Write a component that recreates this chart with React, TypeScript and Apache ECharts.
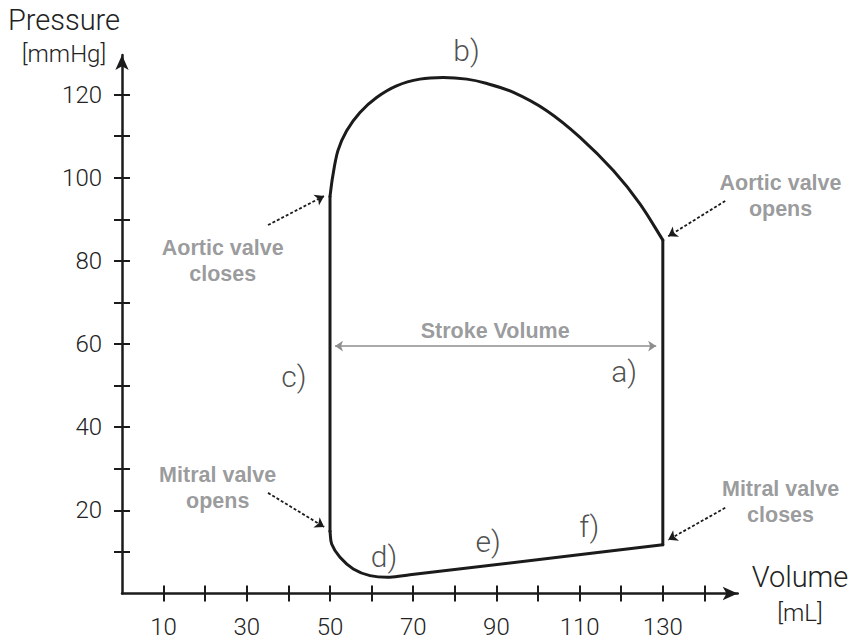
import React, { useEffect, useRef } from "react";
import * as echarts from "echarts";

// Volume (mL) / pressure (mmHg) pairs for each phase of the cardiac cycle
const contractionVolume = [130, 130];
const contractionPressure = [11.7, 85];

const ejectionVolume = [130, 124.5, 118.1, 110.1, 102.1, 94.1, 87.5, 82.9, 77.2, 71.6, 66.0, 61.2, 57.2, 54.0, 51.9, 50.6, 50.0];
const ejectionPressure = [85, 93.7, 101.7, 109.7, 116.1, 120.5, 122.7, 123.7, 124.1, 123.7, 122.1, 119.3, 115.7, 111.3, 106.5, 100, 95.5];

const relaxationVolume = [50, 50];
const relaxationPressure = [95.5, 15];

const fillingVolume = [50, 50.4, 52.4, 55.6, 59.6, 64.4, 69.2, 130];
const fillingPressure = [15, 11.9, 8.7, 5.9, 4.3, 3.9, 4.5, 11.7];

// Axis ticks and labels
const xTickValues = [10, 20, 30, 40, 50, 60, 70, 80, 90, 100, 110, 120, 130, 140];
const xLabelValues = [10, 30, 50, 70, 90, 110, 130];
const yTickValues = [10, 20, 30, 40, 50, 60, 70, 80, 90, 100, 110, 120];
const yLabelValues = [20, 40, 60, 80, 100, 120];

// Phase letters
const phaseNames = ["a)", "b)", "c)", "d)", "e)", "f)"];
const phaseVolume = [120.7, 82.8, 41.3, 63.0, 88.0, 112.3];
const phasePressure = [53.5, 130.5, 52.3, 9.0, 12.4, 16.2];

// Valve events: text, text anchor, arrow start and arrow end
const valveNames = ["Aortic valve\ncloses", "Aortic valve\nopens", "Mitral valve\nopens", "Mitral valve\ncloses"];
const valveTextVolume = [24.2, 158.3, 23.0, 158.3];
const valveTextPressure = [80.0, 95.7, 25.4, 22.1];
const valveArrowFrom = [[35.1, 88.6], [145.0, 94.4], [35.1, 24.2], [145.0, 20.6]];
const valveArrowTo = [[48.6, 95.6], [131.3, 85.9], [48.6, 16.0], [131.3, 12.9]];

// Stroke volume span
const strokeFrom = [51.2, 59.5];
const strokeTo = [128.4, 59.5];
const strokeLabel = { name: "Stroke Volume", volume: 89.7, pressure: 63.1 };

const LINE = "#1b1b1b";
const GREY = "#7f8184";
const THIN_FONT = "Roboto, 'Liberation Sans', sans-serif";
const BOLD_FONT = "'Liberation Sans', Arial, sans-serif";

const zip = (xs: number[], ys: number[]) => xs.map((x, i) => [x, ys[i]]);
const dist = (a: number[], b: number[]) => Math.hypot(b[0] - a[0], b[1] - a[1]);

// One phase of the loop, drawn as a single path through its points.
// Curved phases use length-weighted cardinal tangents as cubic Béziers.
const loopSeries = (name: string, xs: number[], ys: number[], curved: boolean) => {
  const data = zip(xs, ys);
  return {
    name,
    type: "custom",
    silent: true,
    clip: false,
    z: 5,
    data,
    renderItem: (params: any, api: any) => {
      if (params.dataIndex !== 0) return null;
      const p = data.map((d) => api.coord(d));
      const s = 1 / 3;
      let d = `M${p[0][0]},${p[0][1]}`;
      for (let i = 0; i < p.length - 1; i++) {
        const p1 = p[i];
        const p2 = p[i + 1];
        if (!curved) {
          d += ` L${p2[0]},${p2[1]}`;
          continue;
        }
        const p0 = p[i - 1] || p1;
        const p3 = p[i + 2] || p2;
        const d01 = dist(p0, p1);
        const d12 = dist(p1, p2);
        const d23 = dist(p2, p3);
        const k1 = (s * d12) / (d01 + d12);
        const k2 = (s * d12) / (d12 + d23);
        const c1x = p1[0] + (p2[0] - p0[0]) * k1;
        const c1y = p1[1] + (p2[1] - p0[1]) * k1;
        const c2x = p2[0] - (p3[0] - p1[0]) * k2;
        const c2y = p2[1] - (p3[1] - p1[1]) * k2;
        d += ` C${c1x},${c1y} ${c2x},${c2y} ${p2[0]},${p2[1]}`;
      }
      return {
        type: "path",
        shape: { pathData: d },
        style: { fill: "none", stroke: LINE, lineWidth: 3, lineCap: "round", lineJoin: "round" },
      };
    },
  };
};

export default function App() {
  const ref = useRef<HTMLDivElement>(null);

  useEffect(() => {
    if (!ref.current) return;
    const chart = echarts.init(ref.current, undefined, { renderer: "svg" });

    const axisLine = {
      show: true,
      onZero: false,
      symbol: ["none", "arrow"],
      symbolSize: [10, 15],
      lineStyle: { color: LINE, width: 2.5 },
    };
    const tickStyle = { color: LINE, width: 2 };
    const labelText = { color: "#222", fontSize: 24, fontFamily: THIN_FONT, fontWeight: 300 };
    const titleStyle = (text: string, size: number) => ({
      text,
      fontSize: size,
      fontFamily: THIN_FONT,
      fontWeight: 300,
      fill: "#222",
      align: "center",
      verticalAlign: "middle",
    });

    chart.setOption({
      animation: false,
      grid: { left: 122, right: 113.3, top: 55, bottom: 48.5, containLabel: false },
      xAxis: [
        {
          type: "value",
          min: 0,
          max: 148,
          position: "bottom",
          axisLine,
          axisTick: { show: true, customValues: xTickValues, length: 8, lineStyle: tickStyle },
          axisLabel: { show: true, customValues: xLabelValues, margin: 21, ...labelText },
          splitLine: { show: false },
        },
        {
          type: "value",
          min: 0,
          max: 148,
          position: "bottom",
          axisLine: { show: false },
          axisTick: { show: true, inside: true, customValues: xTickValues, length: 8, lineStyle: tickStyle },
          axisLabel: { show: false },
          splitLine: { show: false },
        },
      ],
      yAxis: [
        {
          type: "value",
          min: 0,
          max: 129.5,
          position: "left",
          axisLine,
          axisTick: { show: true, customValues: yTickValues, length: 8, lineStyle: tickStyle },
          axisLabel: { show: true, customValues: yLabelValues, margin: 20, ...labelText },
          splitLine: { show: false },
        },
        {
          type: "value",
          min: 0,
          max: 129.5,
          position: "left",
          axisLine: { show: false },
          axisTick: { show: true, inside: true, customValues: yTickValues, length: 8, lineStyle: tickStyle },
          axisLabel: { show: false },
          splitLine: { show: false },
        },
      ],
      graphic: [
        { type: "text", x: 64, y: 20, style: titleStyle("Pressure", 29) },
        { type: "text", x: 64, y: 54, style: titleStyle("[mmHg]", 24) },
        { type: "text", x: 800, y: 577, style: titleStyle("Volume", 29) },
        { type: "text", x: 800, y: 613, style: titleStyle("[mL]", 24) },
      ],
      series: [
        loopSeries("Isovolumetric contraction", contractionVolume, contractionPressure, false),
        loopSeries("Ejection", ejectionVolume, ejectionPressure, true),
        loopSeries("Isovolumetric relaxation", relaxationVolume, relaxationPressure, false),
        loopSeries("Filling", fillingVolume, fillingPressure, true),
        {
          name: "Valve events",
          type: "lines",
          coordinateSystem: "cartesian2d",
          silent: true,
          symbol: ["none", "arrow"],
          symbolSize: 9,
          lineStyle: { color: LINE, width: 1.8, type: [3, 2], opacity: 1 },
          data: valveArrowFrom.map((from, i) => ({ coords: [from, valveArrowTo[i]] })),
          z: 4,
        },
        {
          name: "Stroke volume",
          type: "lines",
          coordinateSystem: "cartesian2d",
          silent: true,
          symbol: ["arrow", "arrow"],
          symbolSize: 8,
          lineStyle: { color: "#8e8e8e", width: 1.6, opacity: 1 },
          data: [{ coords: [strokeFrom, strokeTo] }],
          z: 4,
        },
        {
          name: "Phases",
          type: "scatter",
          clip: false,
          silent: true,
          symbolSize: 1,
          itemStyle: { color: "transparent" },
          data: phaseNames.map((n, i) => ({ name: n, value: [phaseVolume[i], phasePressure[i]] })),
          label: {
            show: true,
            position: "inside",
            formatter: "{b}",
            color: "#222",
            fontSize: 30,
            fontFamily: THIN_FONT,
            fontWeight: 300,
          },
        },
        {
          name: "Valves",
          type: "scatter",
          clip: false,
          silent: true,
          symbolSize: 1,
          itemStyle: { color: "transparent" },
          data: [
            ...valveNames.map((n, i) => ({ name: n, value: [valveTextVolume[i], valveTextPressure[i]] })),
            { name: strokeLabel.name, value: [strokeLabel.volume, strokeLabel.pressure] },
          ],
          label: {
            show: true,
            position: "inside",
            formatter: "{b}",
            color: GREY,
            fontSize: 21.5,
            lineHeight: 26,
            fontFamily: BOLD_FONT,
            fontWeight: "bold",
            align: "center",
          },
        },
      ],
    });

    return () => chart.dispose();
  }, []);

  return <div ref={ref} style={{ position: "absolute", left: 0, top: 0, width: 851, height: 642 }} />;
}
